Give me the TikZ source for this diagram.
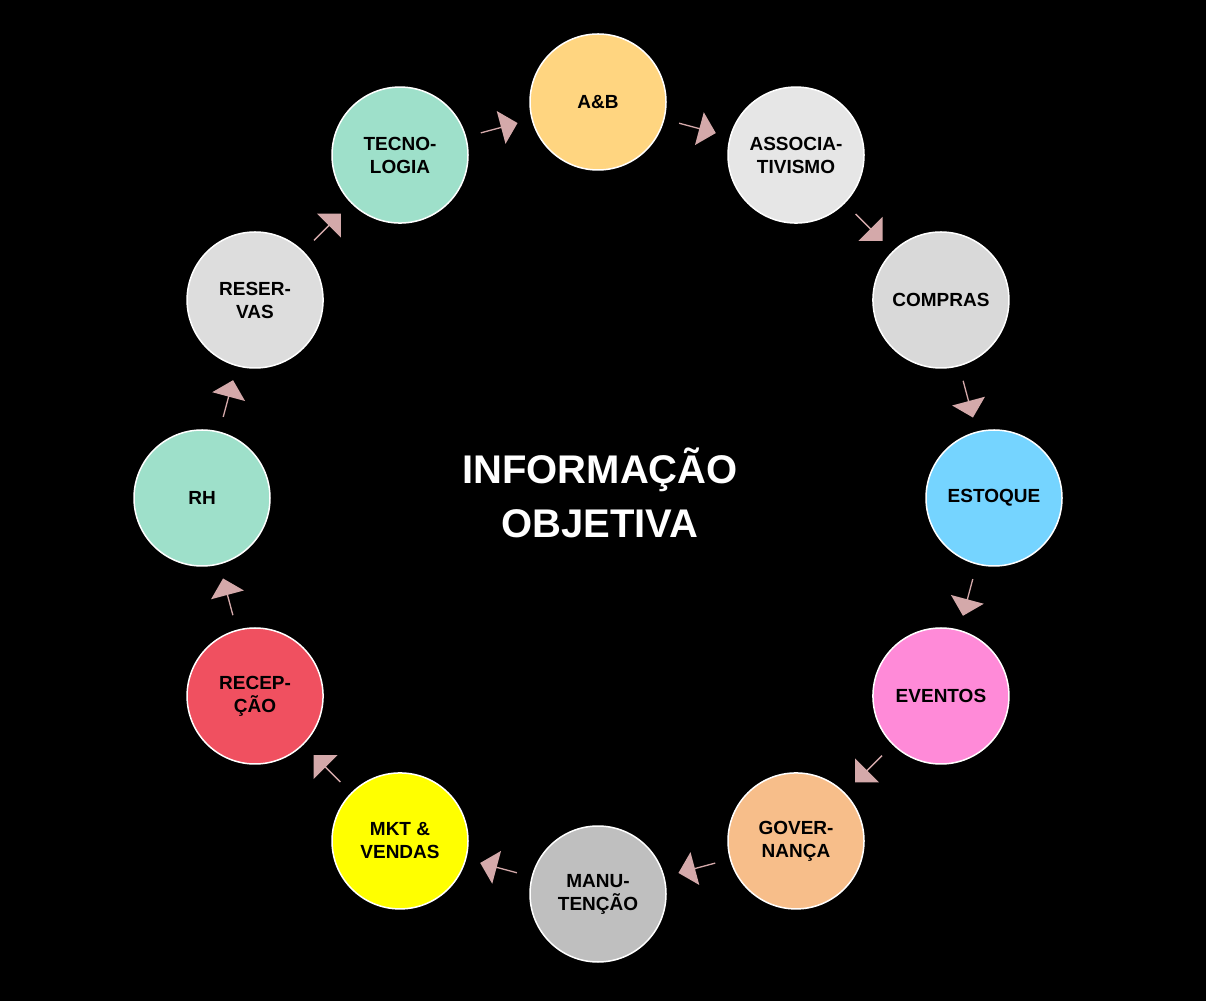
\documentclass[tikz,border=0pt]{standalone}
\usepackage{fontspec}
\setmainfont{Liberation Sans}
\usetikzlibrary{shapes.arrows,calc}
\definecolor{cab}{HTML}{FFD580}
\definecolor{cas}{HTML}{E6E6E6}
\definecolor{cco}{HTML}{D9D9D9}
\definecolor{ces}{HTML}{75D4FF}
\definecolor{cev}{HTML}{FF8AD8}
\definecolor{cgo}{HTML}{F7BE8A}
\definecolor{cma}{HTML}{BFBFBF}
\definecolor{cmk}{HTML}{FFFF00}
\definecolor{cre}{HTML}{F05060}
\definecolor{crh}{HTML}{9EE0CA}
\definecolor{crs}{HTML}{DDDDDD}
\definecolor{cte}{HTML}{9EE0CA}
\definecolor{carr}{HTML}{D4A9AA}
\tikzset{
 dept/.style={circle,draw=white,line width=1.5pt,minimum size=136pt,inner sep=0pt,align=center,font=\bfseries\fontsize{19}{23}\selectfont,text=black},
 blk/.style={single arrow,fill=carr,draw=none,minimum height=38pt,minimum width=34pt,single arrow head extend=5pt,inner sep=0pt,anchor=center}
}
\begin{document}
\begin{tikzpicture}[x=1pt,y=1pt]
\fill[black] (0,0) rectangle (1206,1001);
\useasboundingbox (0,0) rectangle (1206,1001);
\coordinate (c) at (598,503);
\node[font=\bfseries\fontsize{40}{54}\selectfont,text=white,align=center] (ctr) at (600,508) {INFORMAÇÃO\\OBJETIVA};
\foreach \i/\col/\txt in {0/cab/{A\&B},1/cas/{ASSOCIA-\\TIVISMO},2/cco/{COMPRAS},3/ces/{ESTOQUE},4/cev/{EVENTOS},5/cgo/{GOVER-\\NANÇA},6/cma/{MANU-\\TENÇÃO},7/cmk/{MKT \&\\VENDAS},8/cre/{RECEP-\\ÇÃO},9/crh/{RH},10/crs/{RESER-\\VAS},11/cte/{TECNO-\\LOGIA}}{
 \node[dept,fill=\col] (n\i) at ($(c)+({90-30*\i}:396)$) {\txt};
}
\foreach \i in {0,...,11}{
 \pgfmathsetmacro\a{90-30*\i-15}
 \pgfmathsetmacro\r{\a-90}
 \node[blk,rotate=\r] (a\i) at ($(c)+(\a:383)$) {};
}
\end{tikzpicture}
\end{document}
